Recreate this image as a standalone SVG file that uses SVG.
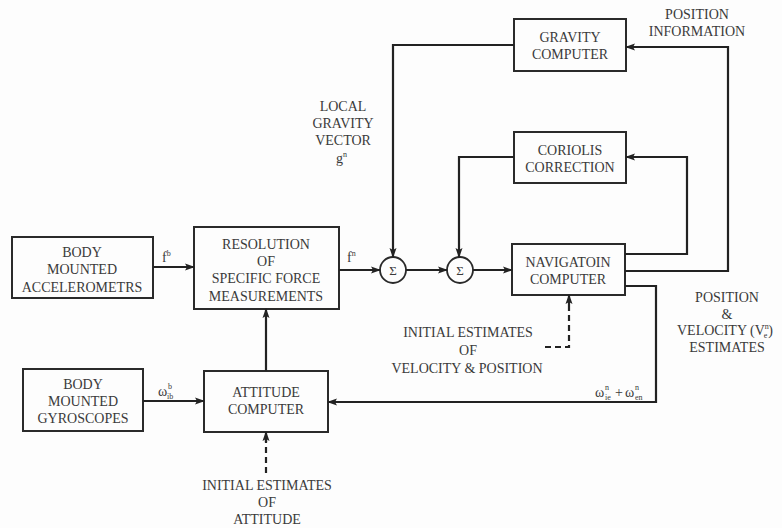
<svg xmlns="http://www.w3.org/2000/svg" width="782" height="528" viewBox="0 0 782 528">
<defs>
<marker id="ah" markerWidth="10" markerHeight="8" refX="9" refY="4" orient="auto" markerUnits="userSpaceOnUse">
<path d="M0,0.5 L10,4 L0,7.5 L2,4 Z" fill="#222"/>
</marker>
<style>
.box{fill:none;stroke:#2a2a2a;stroke-width:2}
.ln{fill:none;stroke:#222;stroke-width:2.2}
.dash{fill:none;stroke:#222;stroke-width:2.2;stroke-dasharray:6,4}
.c{text-anchor:middle}
.s{font-size:8px;fill:#3a3a3a}
</style>
</defs>
<rect width="782" height="528" fill="#fdfdfd"/>
<g font-family="'Liberation Serif', 'Times New Roman', 'DejaVu Serif', serif" font-size="14" fill="#3a3a3a">
<g id="accelerometers">
<rect class="box" x="12" y="237" width="141" height="61"/>
<text class="c" x="82" y="257">BODY</text>
<text class="c" x="82" y="274">MOUNTED</text>
<text class="c" x="82" y="292">ACCELEROMETRS</text>
</g>
<g id="resolution">
<rect class="box" x="194" y="227" width="145" height="82"/>
<text class="c" x="266" y="249">RESOLUTION</text>
<text class="c" x="266" y="266">OF</text>
<text class="c" x="266" y="283">SPECIFIC FORCE</text>
<text class="c" x="266" y="301">MEASUREMENTS</text>
</g>
<g id="sum1">
<circle cx="393" cy="270" r="13" fill="none" stroke="#2a2a2a" stroke-width="1.8"/>
<text class="c" x="393" y="275" font-size="13">Σ</text>
</g>
<g id="sum2">
<circle cx="460" cy="270" r="13" fill="none" stroke="#2a2a2a" stroke-width="1.8"/>
<text class="c" x="460" y="275" font-size="13">Σ</text>
</g>
<g id="navigation">
<rect class="box" x="512" y="244" width="113" height="51"/>
<text class="c" x="568" y="267">NAVIGATOIN</text>
<text class="c" x="568" y="284">COMPUTER</text>
</g>
<g id="gravity">
<rect class="box" x="514" y="19" width="112" height="52"/>
<text class="c" x="570" y="42">GRAVITY</text>
<text class="c" x="570" y="59">COMPUTER</text>
</g>
<g id="coriolis">
<rect class="box" x="514" y="132" width="112" height="51"/>
<text class="c" x="570" y="155">CORIOLIS</text>
<text class="c" x="570" y="172">CORRECTION</text>
</g>
<g id="gyroscopes">
<rect class="box" x="23" y="369" width="120" height="62"/>
<text class="c" x="83" y="389">BODY</text>
<text class="c" x="83" y="406">MOUNTED</text>
<text class="c" x="83" y="423">GYROSCOPES</text>
</g>
<g id="attitude">
<rect class="box" x="204" y="371" width="124" height="61"/>
<text class="c" x="266" y="397">ATTITUDE</text>
<text class="c" x="266" y="414">COMPUTER</text>
</g>

<g id="connectors">
<path class="ln" d="M153,267 H194" marker-end="url(#ah)"/>
<path class="ln" d="M339,270 H380" marker-end="url(#ah)"/>
<path class="ln" d="M406,270 H447" marker-end="url(#ah)"/>
<path class="ln" d="M473,270 H512" marker-end="url(#ah)"/>
<path class="ln" d="M514,45 H393 V257" marker-end="url(#ah)"/>
<path class="ln" d="M514,157 H459 V257" marker-end="url(#ah)"/>
<path class="ln" d="M625,254 H687 V157 H626" marker-end="url(#ah)"/>
<path class="ln" d="M625,271 H728 V47 H626" marker-end="url(#ah)"/>
<path class="ln" d="M625,286 H656 V402 H328" marker-end="url(#ah)"/>
<path class="ln" d="M143,401 H204" marker-end="url(#ah)"/>
<path class="ln" d="M266,371 V309" marker-end="url(#ah)"/>
<path class="dash" d="M545,347 H569 V303"/>
<path class="ln" d="M569,305 V295" marker-end="url(#ah)"/>
<path class="dash" d="M266,473 V440"/>
<path class="ln" d="M266,442 V432" marker-end="url(#ah)"/>
</g>

<g id="labels">
<text x="162" y="262">f<tspan class="s" dy="-6">b</tspan></text>
<text x="347" y="262">f<tspan class="s" dy="-6">n</tspan></text>
<text class="c" x="343" y="111">LOCAL</text>
<text class="c" x="343" y="128">GRAVITY</text>
<text class="c" x="343" y="145">VECTOR</text>
<text x="336" y="163">g<tspan class="s" dy="-6">n</tspan></text>
<text class="c" x="697" y="19">POSITION</text>
<text class="c" x="697" y="36">INFORMATION</text>
<text class="c" x="727" y="302">POSITION</text>
<text class="c" x="727" y="319">&amp;</text>
<text x="677" y="335">VELOCITY (V<tspan class="s" dy="-6">n</tspan><tspan class="s" dx="-5" dy="9">e</tspan><tspan dx="1" dy="-3">)</tspan></text>
<text class="c" x="727" y="352">ESTIMATES</text>
<text class="c" x="468" y="337">INITIAL ESTIMATES</text>
<text class="c" x="468" y="355">OF</text>
<text class="c" x="467" y="373">VELOCITY &amp; POSITION</text>
<text class="c" x="267" y="490">INITIAL ESTIMATES</text>
<text class="c" x="267" y="507">OF</text>
<text class="c" x="267" y="524">ATTITUDE</text>
<text x="158" y="396">ω</text>
<text class="s" x="168" y="389">b</text>
<text class="s" x="167" y="399">ib</text>
<text x="595" y="397">ω</text>
<text class="s" x="605" y="390">n</text>
<text class="s" x="605" y="400">ie</text>
<text x="615" y="397">+</text>
<text x="625" y="397">ω</text>
<text class="s" x="635" y="390">n</text>
<text class="s" x="635" y="400">en</text>
</g>
</g>
</svg>
